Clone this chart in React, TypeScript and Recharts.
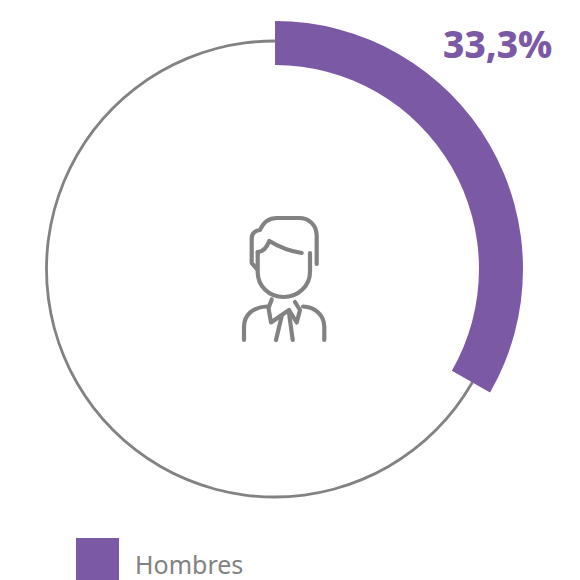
import { PieChart, Pie, Cell, Legend } from "recharts";

const sliceNames = ["Hombres", "Resto"];
const sliceValues = [33.3, 66.7];
const percentLabel = "33,3%";
const ringValues = [100];

const PURPLE = "#7c59a4";
const GREY = "#828282";
const FONT = "'Noto Sans', sans-serif";

const sliceData = sliceNames.map((name, i) => ({ name, value: sliceValues[i] }));
const ringData = ringValues.map((value) => ({ name: "Total", value }));

function renderLegend({ payload }: any) {
  const items = (payload || []).filter((p: any) => p.value === sliceNames[0]);
  return (
    <div>
      {items.map((item: any) => (
        <div key={item.value} style={{ display: "flex", alignItems: "center" }}>
          <div style={{ width: 43, height: 42, background: PURPLE }} />
          <span style={{ marginLeft: 16, fontFamily: FONT, fontSize: 25, color: GREY, lineHeight: "42px", position: "relative", top: 5 }}>
            {item.value}
          </span>
        </div>
      ))}
    </div>
  );
}

function PersonIcon() {
  return (
    <g fill="none" stroke={GREY} strokeWidth={4.2} strokeLinecap="round" strokeLinejoin="round">
      <path d="M316.7 264 V236 C316.7 225 309 218 299 218 H277 C269 218 263 223 260 230 C254 231 251.7 234 251.7 238 V263 L257 269" />
      <path d="M257.7 252 V272 C257.7 286 269 297 283.5 297 C298 297 310 286 310 272 V253" />
      <path d="M257.7 252 C263 252 267 247 269.3 241 C279 247 289 251 301.7 253" />
      <path d="M244 340 V327 C244 315 253 307 267 306.5" />
      <path d="M324.3 340 V327 C324.3 315 315 307 303 306.5" />
      <path d="M271.7 299.5 L268.5 308 L271 322.5 L281.7 315 L289 310 L296.7 322.5 L300 310 L295 302" />
      <path d="M281.7 316 L276 340" />
      <path d="M289 313 L292.7 340" />
    </g>
  );
}

export default function App() {
  return (
    <div style={{ position: "absolute", left: 0, top: 0, width: 580, height: 580 }}>
      <PieChart width={580} height={580} margin={{ top: 0, right: 0, bottom: 0, left: 0 }}>
        <Pie
          data={ringData}
          dataKey="value"
          nameKey="name"
          cx={274.5}
          cy={269}
          innerRadius={226.6}
          outerRadius={229.4}
          startAngle={90}
          endAngle={-270}
          stroke="none"
          fill={GREY}
          isAnimationActive={false}
        />
        <Pie
          data={sliceData}
          dataKey="value"
          nameKey="name"
          cx={275}
          cy={269}
          innerRadius={204}
          outerRadius={248}
          startAngle={90}
          endAngle={-270}
          stroke="none"
          isAnimationActive={false}
        >
          <Cell fill={PURPLE} />
          <Cell fill="transparent" />
        </Pie>
        <Legend
          content={renderLegend}
          wrapperStyle={{ position: "absolute", left: 76, top: 538, bottom: "auto", width: 300 }}
        />
        <PersonIcon />
        <text x={443} y={58} fill={PURPLE} fontFamily={FONT} fontWeight={800} fontSize={37}>
          {percentLabel}
        </text>
      </PieChart>
    </div>
  );
}
